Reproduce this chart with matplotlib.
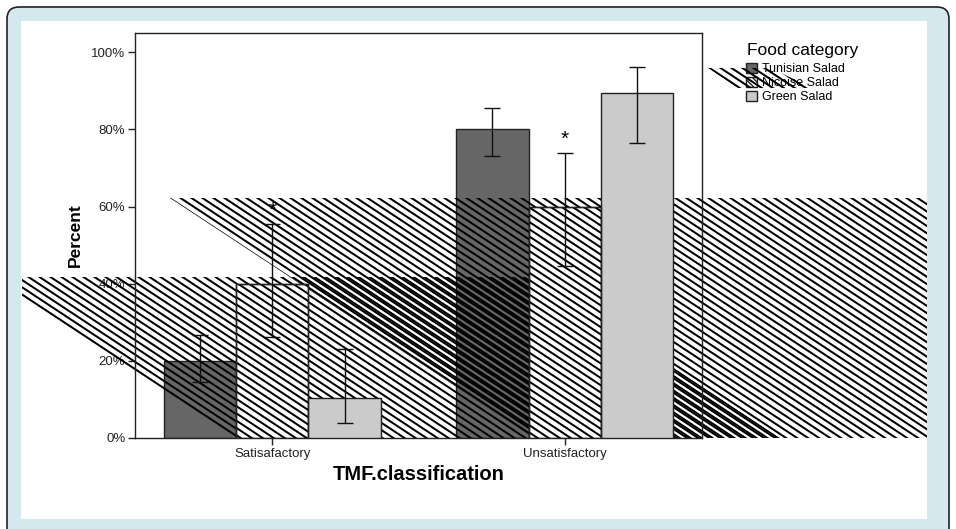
import numpy as np
import matplotlib.pyplot as plt
from matplotlib.patches import Patch, Polygon, Rectangle, FancyBboxPatch
from matplotlib.collections import LineCollection
from matplotlib.transforms import IdentityTransform

plt.rcParams['font.family'] = ['Liberation Sans', 'DejaVu Sans']

# data (percent of samples)
groups = ['Satisafactory', 'Unsatisfactory']
foods = ['Tunisian Salad', 'Nicoise Salad', 'Green Salad']
tunisian = [20.0, 80.0]
nicoise = [40.0, 60.0]
green = [10.5, 89.5]
# 95% CI bounds
tunisian_lo = [14.6, 73.2]
tunisian_hi = [26.8, 85.5]
nicoise_lo = [26.2, 44.7]
nicoise_hi = [55.6, 74.0]
green_lo = [3.9, 76.6]
green_hi = [23.1, 96.1]
marks = ['', '*', '']   # significance mark per food
yticks = [0, 20, 40, 60, 80, 100]

W, H = 956, 529
BLUE = '#d4e9ee'
DARK = '#666666'
LIGHT = '#cbcbcb'


def px(points):
    """image pixel coords (y down) -> display coords"""
    return [(x, H - y) for x, y in points]


def stripes(ax, clip, zorder, phase=0.0):
    """diagonal hatch lines (like the original export) clipped to a patch"""
    slope = 0.66
    step = 11 * slope
    segs = []
    for b in np.arange(phase, H + slope * W + step, step):
        segs.append([(0, b), (W, b - slope * W)])
    lc = LineCollection(segs, colors='black', linewidths=1.45,
                        transform=IdentityTransform(), zorder=zorder)
    ax.add_collection(lc, autolim=False)
    # set the clip after adding, otherwise the axes clip replaces it
    lc.set_clip_box(None)
    lc.set_clip_path(clip.get_path(), clip.get_transform())


fig = plt.figure(figsize=(W / 100, H / 100), dpi=100, facecolor='white')

# light blue frame with rounded border and white panel
frame = FancyBboxPatch((7, H - 545), 942, 538, boxstyle='round,pad=0,rounding_size=12',
                       facecolor=BLUE, edgecolor='#222222', linewidth=1.2,
                       transform=IdentityTransform(), zorder=-3)
fig.add_artist(frame)
panel = Rectangle((21, H - 519), 906, 498, facecolor='white', edgecolor='none',
                  transform=IdentityTransform(), zorder=-2)
fig.add_artist(panel)

ax = fig.add_axes([135 / W, (H - 438) / H, (702 - 135) / W, (438 - 33) / H])
ax.set_facecolor('none')

x = np.arange(len(groups))
width = 0.247
series = [
    (tunisian, tunisian_lo, tunisian_hi, DARK),
    (nicoise, nicoise_lo, nicoise_hi, 'white'),
    (green, green_lo, green_hi, LIGHT),
]

for i, (vals, lo, hi, col) in enumerate(series):
    xs = x + (i - 1) * width
    vals = np.array(vals)
    z = 2 if i == 0 else 3
    bars = ax.bar(xs, vals, width, color=col, edgecolor='#222222', linewidth=1, zorder=z)
    if i == 1:
        for b in bars:
            stripes(ax, b, 3.1, phase=3.0)
        ax.bar(xs, vals, width, fill=False, edgecolor='#222222', linewidth=1, zorder=3.2)
    ax.errorbar(xs, vals, yerr=[vals - np.array(lo), np.array(hi) - vals], fmt='none',
                ecolor='#111111', elinewidth=1, capsize=6, capthick=1, zorder=4)
    if marks[i]:
        for xi, h in zip(xs, hi):
            ax.text(xi, h + 2.0, marks[i], ha='center', va='baseline', fontsize=15, zorder=4)

# stray hatch bands that the original export left over the plot
band_a = Polygon(px([(170, 198), (927, 198), (927, 438), (534, 438)]),
                 transform=IdentityTransform())
band_b = Polygon(px([(22, 277), (536, 277), (780, 438), (233, 438), (22, 298)]),
                 transform=IdentityTransform())
band_c = Polygon(px([(708, 68), (770, 68), (813, 88), (737, 88)]),
                 transform=IdentityTransform())
stripes(ax, band_a, 2.2)
stripes(ax, band_b, 2.3, phase=2.2)

ax.set_xlim(-0.47, 1.47)
ax.set_ylim(0, 105)
ax.set_yticks(yticks)
ax.set_yticklabels([f'{t}%' for t in yticks])
ax.set_xticks(x)
ax.set_xticklabels(groups)
ax.tick_params(axis='both', length=5, width=1, labelsize=9.5, colors='#222222', pad=2)
for s in ax.spines.values():
    s.set_linewidth(1)
    s.set_color('#222222')

ax.set_ylabel('Percent', fontsize=12.5, fontweight='bold', labelpad=6)
ax.set_xlabel('TMF.classification', fontsize=14.5, fontweight='bold', labelpad=4)

handles = [Patch(facecolor=DARK, edgecolor='#222222'),
           Patch(facecolor='white', edgecolor='#222222', hatch='\\\\\\\\'),
           Patch(facecolor=LIGHT, edgecolor='#222222')]
leg = ax.legend(handles, foods, loc='upper left',
                bbox_to_anchor=(746 / W, 1 - 63 / H), bbox_transform=fig.transFigure,
                frameon=False, fontsize=9, handlelength=0.9, handleheight=0.9,
                handletextpad=0.4, labelspacing=0.12, borderpad=0, borderaxespad=0)
fig.text(747 / W, 1 - 50 / H, 'Food category', fontsize=12.5, va='center', ha='left')
stripes(ax, band_c, 6)

fig.savefig('out.png', dpi=100, facecolor='white')
